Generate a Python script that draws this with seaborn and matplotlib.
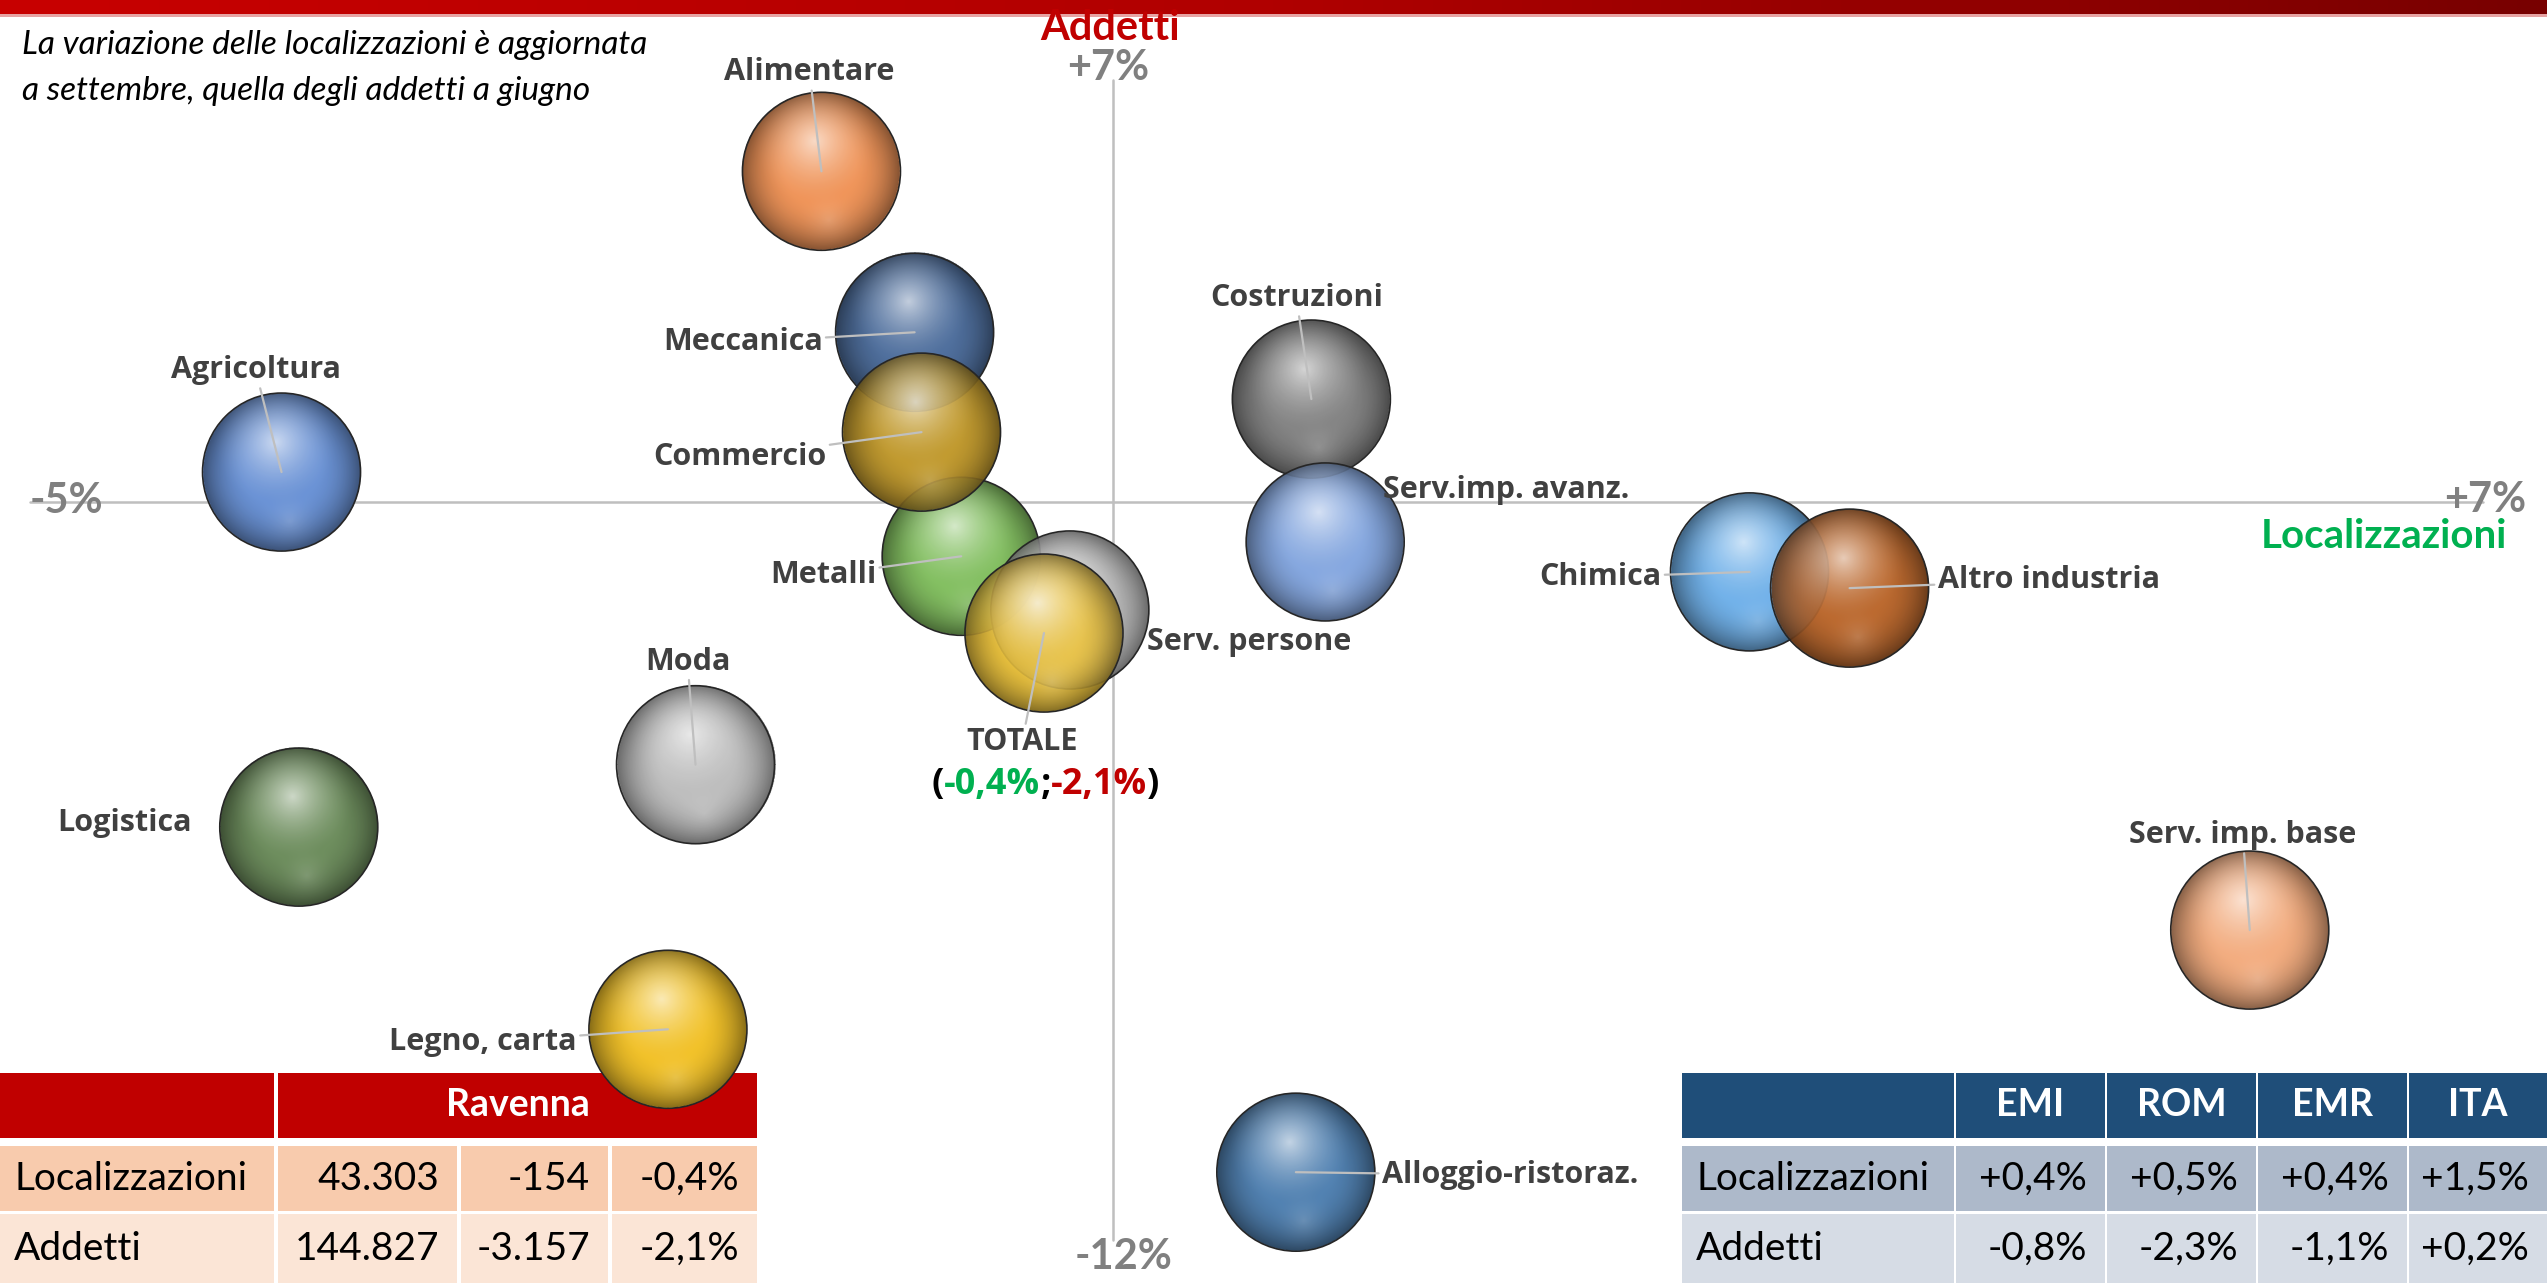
import numpy as np
import pandas as pd
import seaborn as sns
import matplotlib.pyplot as plt
import matplotlib.colors as mcolors
from matplotlib.patches import Rectangle, Ellipse

# variazione % localizzazioni (x) e addetti (y) per settore, provincia di Ravenna
settori = ["Agricoltura", "Alimentare", "Meccanica", "Metalli", "Commercio", "Costruzioni",
           "Serv.imp. avanz.", "Chimica", "Altro industria", "Moda", "Logistica",
           "Serv. imp. base", "Legno, carta", "Alloggio-ristoraz.", "Serv. persone", "TOTALE"]
var_localizzazioni = [-4.82, -1.69, -1.15, -0.88, -1.11, 1.15, 1.23, 3.69, 4.27,
                      -2.42, -4.72, 6.59, -2.58, 1.06, -0.25, -0.40]
var_addetti = [0.48, 5.30, 2.72, -0.87, 1.12, 1.65, -0.64, -1.12, -1.38,
               -4.21, -5.21, -6.86, -8.45, -10.74, -1.73, -2.10]

# tabelle
righe_tab = ["Localizzazioni", "Addetti"]
ravenna_stock = ["43.303", "144.827"]
ravenna_diff = ["-154", "-3.157"]
ravenna_pct = ["-0,4%", "-2,1%"]
aree = ["EMI", "ROM", "EMR", "ITA"]
aree_loc = ["+0,4%", "+0,5%", "+0,4%", "+1,5%"]
aree_add = ["-0,8%", "-2,3%", "-1,1%", "+0,2%"]

colori = ["#6B93D6", "#F0955A", "#50709E", "#84C062", "#C29B30", "#858585",
          "#86A8E0", "#72B2EA", "#BC6A30", "#BEBEBE", "#6E8E5E",
          "#F3AD80", "#F2C22A", "#5282B2", "#BDBDBD", "#EEC540"]

# label offset from bubble centre in pixels (dx right, dy down), alignment, leader line
etichette = {
    "Agricoltura": (-26, -102, "center", True),
    "Alimentare": (-12, -99, "center", True),
    "Meccanica": (-92, 10, "right", True),
    "Metalli": (-85, 19, "right", True),
    "Commercio": (-95, 25, "right", True),
    "Costruzioni": (-15, -101, "center", True),
    "Serv.imp. avanz.": (58, -52, "left", False),
    "Chimica": (-88, 5, "right", True),
    "Altro industria": (88, -8, "left", True),
    "Moda": (-8, -103, "center", True),
    "Logistica": (-174, -4, "center", False),
    "Serv. imp. base": (-7, -95, "center", True),
    "Legno, carta": (-91, 13, "right", True),
    "Alloggio-ristoraz.": (86, 3, "left", True),
    "Serv. persone": (77, 32, "left", False),
    "TOTALE": (-22, 109, "center", True),
}

W, H, DPI = 2547, 1283, 100
XLIM = (-6.452, 8.313)
YLIM = (-12.516, 8.045)
R_PX = 79
GREY_TXT = "#404040"
PT = 72 / DPI


def sphere(colour, n=241):
    base = np.array(mcolors.to_rgb(colour))
    t = np.linspace(-1, 1, n)
    xx, yy = np.meshgrid(t, t)
    rr = np.hypot(xx, yy)
    glow = np.clip(1 - np.hypot(xx + 0.08, yy + 0.38) / 0.8, 0, 1) ** 1.6
    low = np.clip(1 - np.hypot(xx - 0.1, yy - 0.62) / 0.45, 0, 1) ** 2
    rim = np.clip((rr - 0.4) / 0.6, 0, 1) ** 2
    rgb = base[None, None, :] * (1 - 0.5 * rim[..., None])
    rgb = rgb + (1 - rgb) * (0.75 * glow + 0.18 * low)[..., None]
    alpha = np.where(rr <= 1, 0.88, 0.0)
    return np.dstack([np.clip(rgb, 0, 1), alpha])


def draw_table(axb, cols, rows, cells, fills, fs=28):
    # rows: list of (y0, y1); cells[r][c] = (text, align, colour, bold)
    for r, (y0, y1) in enumerate(rows):
        for c, (x0, x1) in enumerate(cols[r]):
            axb.add_patch(Rectangle((x0, y0), x1 - x0, y1 - y0, color=fills[r], lw=0))
            txt, al, col, bold = cells[r][c]
            if not txt:
                continue
            if al == "left":
                tx = x0 + 14
            elif al == "right":
                tx = x1 - 18
            else:
                tx = (x0 + x1) / 2
            axb.text(tx, (y0 + y1) / 2, txt, ha=al, va="center", color=col,
                     fontsize=fs if not bold else 27, family="Lato",
                     fontweight="bold" if bold else "normal")


sns.set_theme(style="white")
plt.rcParams["font.family"] = ["Open Sans", "DejaVu Sans"]

fig = plt.figure(figsize=(W / DPI, H / DPI), dpi=DPI)
bg = fig.add_axes([0, 0, 1, 1], zorder=0)
bg.set_xlim(0, W)
bg.set_ylim(H, 0)
bg.axis("off")
ax = fig.add_axes([0, 0, 1, 1], zorder=1)
ax.patch.set_visible(False)

# red band on top
band = mcolors.LinearSegmentedColormap.from_list("band", ["#C80000", "#B00000", "#780000"])
bg.imshow(np.linspace(0, 1, 256)[None, :], cmap=band, extent=[0, W, 14, 0], aspect="auto")
bg.add_patch(Rectangle((0, 14), W, 3, color="#E7A3A3", lw=0))

bg.text(22, 45, "La variazione delle localizzazioni è aggiornata", fontsize=24,
        family="Lato", style="italic", va="center", color="black")
bg.text(22, 91, "a settembre, quella degli addetti a giugno", fontsize=24,
        family="Lato", style="italic", va="center", color="black")

# tables
rows = [(1073, 1138), (1146, 1211), (1214, 1283)]
left_cols = [[(0, 274), (278, 757)],
             [(0, 274), (278, 457), (461, 608), (612, 757)],
             [(0, 274), (278, 457), (461, 608), (612, 757)]]
left_cells = [[("", "left", "white", False), ("Ravenna", "center", "white", True)]]
for i, r in enumerate(righe_tab):
    left_cells.append([(r, "left", "black", False), (ravenna_stock[i], "right", "black", False),
                       (ravenna_diff[i], "right", "black", False), (ravenna_pct[i], "right", "black", False)])
draw_table(bg, left_cols, rows, left_cells, ["#C00000", "#F8CBAD", "#FBE5D6"])

rc = [(1682, 1954), (1956, 2105), (2107, 2256), (2258, 2407), (2409, 2547)]
right_cells = [[("", "left", "white", False)] + [(a, "center", "white", True) for a in aree]]
right_cells.append([(righe_tab[0], "left", "black", False)] + [(v, "right", "black", False) for v in aree_loc])
right_cells.append([(righe_tab[1], "left", "black", False)] + [(v, "right", "black", False) for v in aree_add])
draw_table(bg, [rc, rc, rc], rows, right_cells, ["#1F4E79", "#ADB9CA", "#D6DCE5"])

# axes cross
ax.plot([-6.28, 7.94], [0, 0], color="#BFBFBF", lw=1.8, zorder=2)
ax.plot([0, 0], [6.76, -11.83], color="#BFBFBF", lw=1.8, zorder=2)

df = pd.DataFrame({"settore": settori, "loc": var_localizzazioni, "add": var_addetti})
px_x = W / (XLIM[1] - XLIM[0])
px_y = H / (YLIM[1] - YLIM[0])
rx, ry = R_PX / px_x, R_PX / px_y
s_area = (2 * R_PX * PT) ** 2

sns.scatterplot(data=df, x="loc", y="add", hue="settore", palette=dict(zip(settori, colori)),
                s=s_area, edgecolor="none", legend=False, ax=ax, zorder=3)

for i, row in df.iterrows():
    z = 10 + 2 * i
    ax.imshow(sphere(colori[i]), extent=[row["loc"] - rx, row["loc"] + rx, row["add"] - ry, row["add"] + ry],
              aspect="auto", interpolation="bilinear", zorder=z)
    ax.add_patch(Ellipse((row["loc"], row["add"]), 2 * rx, 2 * ry, fill=False,
                         ec="#262626", lw=1.2, zorder=z + 1))

ax.set_xlim(*XLIM)
ax.set_ylim(*YLIM)
ax.axis("off")

# labels and leader lines
for i, row in df.iterrows():
    dx, dy, ha, leader = etichette[row["settore"]]
    kw = {}
    if leader:
        kw["arrowprops"] = dict(arrowstyle="-", color="#BFBFBF", lw=1.6, shrinkA=0, shrinkB=0)
    ax.annotate(row["settore"], xy=(row["loc"], row["add"]), xytext=(dx * PT, -dy * PT),
                textcoords="offset points", ha=ha, va="center", fontsize=22,
                fontweight="bold", color=GREY_TXT, zorder=60, **kw)

# TOTALE values line
tot = df[df["settore"] == "TOTALE"].iloc[0]
fmt = lambda v: f"{v:+.1f}%".replace(".", ",")
pezzi = [("(", "black"), (fmt(tot["loc"]), "#00B050"), (";", "black"),
         (fmt(tot["add"]), "#C00000"), (")", "black")]
prev = ax.annotate(pezzi[0][0], xy=(tot["loc"], tot["add"]), xytext=(-112 * PT, -152 * PT),
                   textcoords="offset points", ha="left", va="center", fontsize=26,
                   fontweight="bold", color=pezzi[0][1], zorder=60)
for txt, col in pezzi[1:]:
    prev = ax.annotate(txt, xy=(1, 0), xycoords=prev, ha="left", va="bottom", fontsize=26,
                       fontweight="bold", color=col, zorder=60)

# axis end labels
lab = dict(transform=bg.transData, family="Lato", fontweight="bold", ha="center", va="center", zorder=70)
ax.text(66, 501, "-5%", fontsize=30, color="#808080", **lab)
ax.text(2485, 500, "+7%", fontsize=30, color="#808080", **lab)
ax.text(1108, 68, "+7%", fontsize=30, color="#808080", **lab)
ax.text(1124, 1257, "-12%", fontsize=30, color="#808080", **lab)
ax.text(1110, 28, "Addetti", fontsize=30, color="#C00000", **lab)
ax.text(2384, 537, "Localizzazioni", fontsize=29, color="#00B050", **lab)

fig.savefig("out.png", dpi=DPI)
